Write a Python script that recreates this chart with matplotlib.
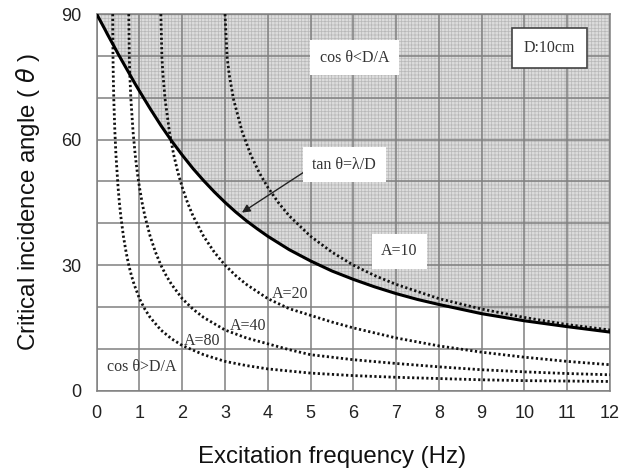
import numpy as np
import matplotlib
matplotlib.use("Agg")
import matplotlib.pyplot as plt

# tan(theta) = lambda / D  (solid boundary)
freq_tan = [0, 0.1, 0.2, 0.25, 0.4, 0.5, 0.6, 0.75, 0.9, 1, 1.25, 1.5, 1.75, 2, 2.25,
            2.5, 2.75, 3, 3.25, 3.5, 3.75, 4, 4.5, 5, 5.5, 6, 6.5, 7, 7.5, 8, 9, 10, 11, 12]
theta_tan = [90, 88.1, 86.2, 85.2, 82.4, 80.5, 78.7, 76.0, 73.3, 71.6, 67.4, 63.4, 59.7,
             56.3, 53.1, 50.2, 47.5, 45.0, 42.7, 40.6, 38.7, 36.9, 33.7, 31.0, 28.6,
             26.6, 24.8, 23.2, 21.8, 20.6, 18.4, 16.7, 15.3, 14.0]

# cos(theta) = D / A curves (dotted)
freq_a10 = [3.0, 3.05, 3.1, 3.2, 3.4, 3.6, 3.8, 4.0, 4.25, 4.5, 5.0, 5.5, 6, 6.5, 7, 8,
            9, 10, 11, 12]
theta_a10 = [90, 79.6, 75.4, 69.6, 61.9, 56.4, 52.1, 48.6, 44.9, 41.8, 36.9, 33.1, 30.0,
             27.5, 25.4, 22.0, 19.5, 17.5, 15.8, 14.5]

freq_a20 = [1.5, 1.525, 1.55, 1.6, 1.7, 1.8, 1.9, 2.0, 2.125, 2.25, 2.5, 2.75, 3, 3.25,
            3.5, 4, 4.5, 5, 5.5, 6, 7, 8, 9, 10, 11, 12]
theta_a20 = [90, 79.6, 75.4, 69.6, 61.9, 56.4, 52.1, 48.6, 44.9, 41.8, 36.9, 33.1, 30.0,
             27.5, 25.4, 22.0, 19.6, 18.0, 16.4, 15.0, 12.6, 10.7, 9.2, 8.0, 7.0, 6.2]

freq_a40 = [0.75, 0.7625, 0.775, 0.8, 0.85, 0.9, 0.95, 1.0, 1.0625, 1.125, 1.25, 1.375,
            1.5, 1.625, 1.75, 2, 2.25, 2.5, 3, 3.5, 4, 4.5, 5, 6, 7, 8, 9, 10, 11, 12]
theta_a40 = [90, 79.6, 75.4, 69.6, 61.9, 56.4, 52.1, 48.6, 44.9, 41.8, 36.9, 33.1,
             30.0, 27.5, 25.4, 22.0, 19.5, 17.5, 14.5, 12.6, 11.2, 9.8, 8.6, 7.4, 6.5,
             5.7, 5.0, 4.5, 4.1, 3.8]

freq_a80 = [0.375, 0.38, 0.3875, 0.4, 0.425, 0.45, 0.5, 0.53, 0.5625, 0.625, 0.6875,
            0.75, 0.8125, 0.875, 1, 1.125, 1.25, 1.5, 1.75, 2, 2.5, 3, 3.5, 4, 5, 6, 7,
            8, 9, 10, 11, 12]
theta_a80 = [90, 80.7, 75.4, 69.6, 61.9, 56.4, 48.6, 45.0, 41.8, 36.9, 33.1, 30.0,
             27.5, 25.4, 22.0, 19.5, 17.5, 14.5, 12.4, 10.8, 8.6, 7.0, 6.0, 5.2, 4.2,
             3.6, 3.2, 2.9, 2.6, 2.4, 2.3, 2.2]

x_ticks = list(range(0, 13))
y_ticks = [0, 30, 60, 90]

serif = "Liberation Serif"
sans = "Liberation Sans"
plt.rcParams["mathtext.fontset"] = "dejavusans"
plt.rcParams["hatch.color"] = "#b8b8b8"
plt.rcParams["hatch.linewidth"] = 0.5

fig = plt.figure(figsize=(6.27, 4.69), dpi=100)
ax = fig.add_axes([0.1542, 0.167, 0.8187, 0.803])

# shaded region above the tan curve
ax.fill_between(freq_tan, theta_tan, 90, facecolor="#dcdcdc", edgecolor="#b8b8b8",
                hatch="+++++", linewidth=0, zorder=1)

ax.set_xlim(0, 12)
ax.set_ylim(0, 90)
ax.set_xticks(x_ticks)
ax.set_yticks(y_ticks)
ax.set_yticks(np.arange(0, 91, 10), minor=True)
ax.grid(True, which="both", color="#808080", linewidth=1.1, zorder=2)
ax.set_axisbelow(False)
ax.tick_params(which="both", length=0, labelsize=13)
ax.tick_params(axis="x", pad=10)
ax.tick_params(axis="y", pad=11)
for lab in ax.get_xticklabels() + ax.get_yticklabels():
    lab.set_family(sans)
    lab.set_color("#222222")
for sp in ax.spines.values():
    sp.set_color("#808080")
    sp.set_linewidth(1.1)

dot = dict(color="#111111", linestyle=(0, (0.8, 0.9)), linewidth=2.0, zorder=3)
ax.plot(freq_a10, theta_a10, **dot)
ax.plot(freq_a20, theta_a20, **dot)
ax.plot(freq_a40, theta_a40, **dot)
ax.plot(freq_a80, theta_a80, **dot)
ax.plot(freq_tan, theta_tan, color="black", linewidth=2.2, zorder=4)

wbox = dict(boxstyle="square,pad=0.6", facecolor="white", edgecolor="none")
tk = dict(family=serif, fontsize=11.5, color="#333333", ha="center", va="center", zorder=6)

ax.text(6.03, 79.6, "cos θ<D/A", bbox=wbox, **tk)
ax.text(10.59, 82.0, "D:10cm",
        bbox=dict(boxstyle="square,pad=0.75", facecolor="white", edgecolor="#444444",
                  linewidth=1.2), **tk)
ax.text(5.79, 54.0, "tan θ=λ/D", bbox=wbox, **tk)
ax.text(7.08, 33.3, "A=10", bbox=wbox, **tk)
ax.text(4.51, 23.2, "A=20", **tk)
ax.text(3.53, 15.5, "A=40", **tk)
ax.text(2.46, 11.9, "A=80", **tk)
ax.text(1.06, 5.6, "cos θ>D/A", **tk)

ax.annotate("", xy=(3.34, 42.2), xytext=(4.9, 52.6),
            arrowprops=dict(arrowstyle="-|>", color="#222222", lw=1.0,
                            mutation_scale=12), zorder=5)

ax.set_xlabel("Excitation frequency (Hz)", family=sans, fontsize=17.3, color="#111111")
ax.xaxis.set_label_coords(0.458, -0.148)
ax.set_ylabel("Critical incidence angle ( $\\theta$ )", family=sans, fontsize=17.3,
              color="#111111")
ax.yaxis.set_label_coords(-0.107, 0.5)

fig.savefig("out.png", dpi=100)
